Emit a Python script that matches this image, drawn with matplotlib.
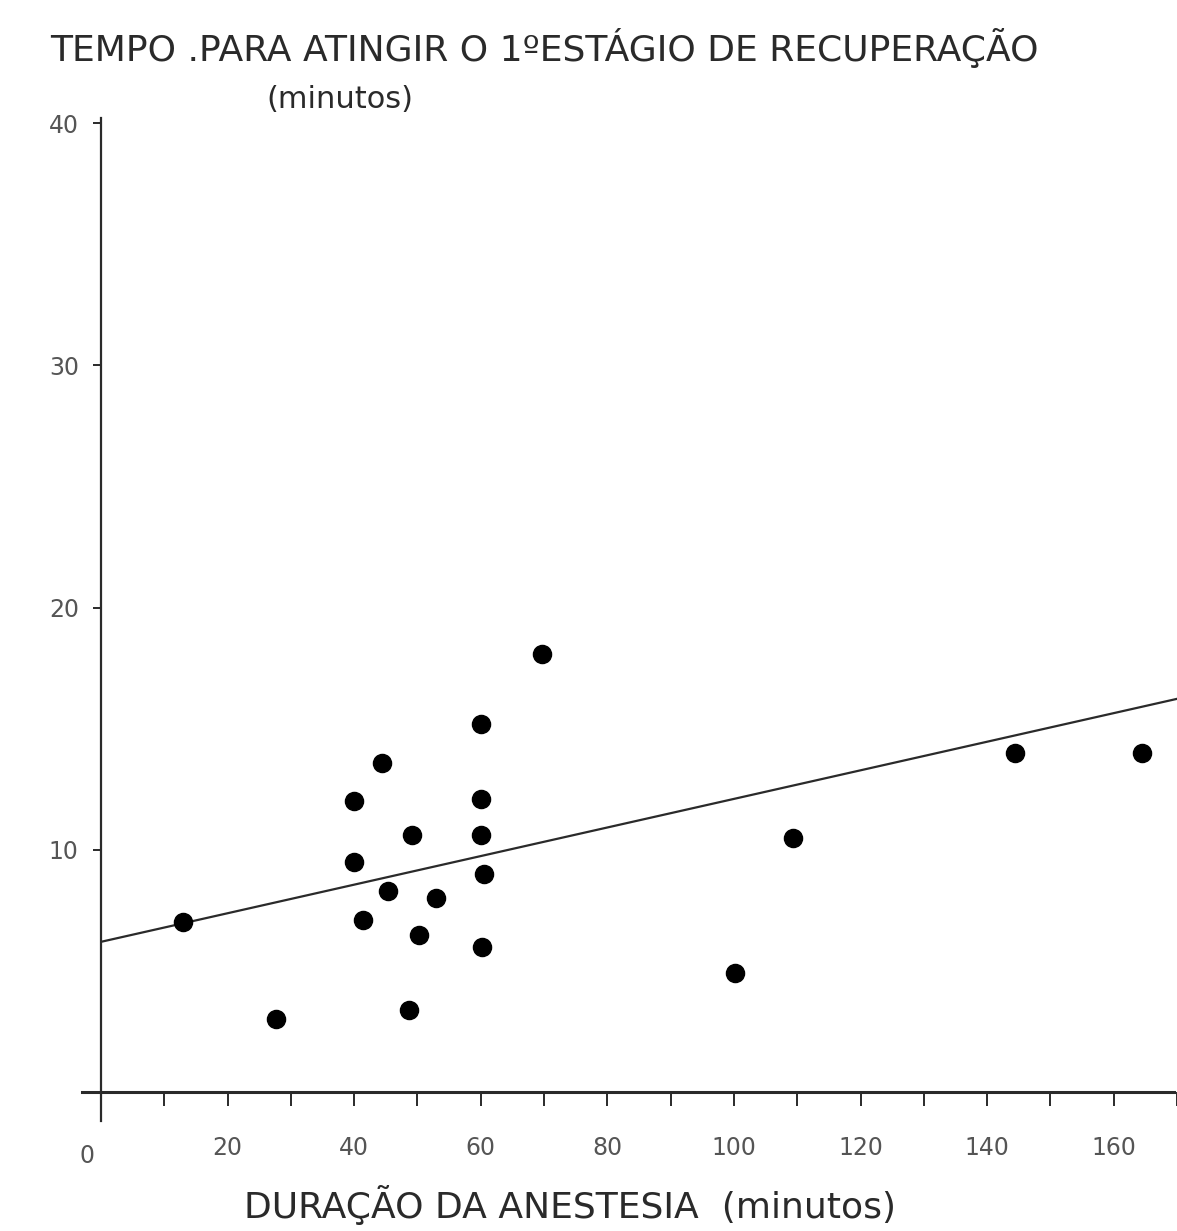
import numpy as np
import matplotlib
matplotlib.use("Agg")
import matplotlib.pyplot as plt
import matplotlib.transforms as mtransforms

# duração da anestesia (min) x tempo até o 1º estágio de recuperação (min)
duracao = [13, 27.6, 40, 40, 41.4, 44.4, 45.4, 48.7, 49.1, 50.2, 53,
           60, 60, 60, 60.5, 60.2, 69.6, 100.2, 109.4, 144.4, 164.4]
tempo = [7.0, 3.0, 12.0, 9.5, 7.1, 13.6, 8.3, 3.4, 10.6, 6.5, 8.0,
         15.2, 12.1, 10.6, 9.0, 6.0, 18.1, 4.9, 10.5, 14.0, 14.0]

# reta traçada
intercepto = 6.2
inclinacao = 0.059

xticks = [0, 20, 40, 60, 80, 100, 120, 140, 160]
yticks = [10, 20, 30, 40]

plt.rcParams['font.family'] = ['DejaVu Sans']
tinta = '#2a2a2a'

fig = plt.figure(figsize=(11.77, 12.31), dpi=100)
ax = fig.add_axes([101/1177, 0.1129, 1 - 101/1177, 0.904 - 0.1129])

ax.scatter(duracao, tempo, s=170, color='black', zorder=3)

xr = np.array([0, 172])
ax.plot(xr, intercepto + inclinacao*xr, color=tinta, lw=1.6, zorder=2)

ax.set_xlim(0, 169.5)
ax.set_ylim(0, 40.2)

for s in ['top', 'right']:
    ax.spines[s].set_visible(False)
ax.spines['left'].set_linewidth(1.6)
ax.spines['bottom'].set_linewidth(2.2)
ax.spines['left'].set_color(tinta)
ax.spines['bottom'].set_color(tinta)
ax.spines['left'].set_bounds(-1.2, 40.2)
ax.spines['bottom'].set_bounds(-3, 169.5)

ax.set_xticks(np.arange(0, 171, 10), minor=True)
ax.set_xticks(xticks)
ax.set_xticklabels([str(v) for v in xticks], fontsize=17, color='#555555')
ax.tick_params(axis='x', which='both', direction='out', length=10, width=1.4,
               color=tinta, pad=22)
ax.set_yticks(yticks)
ax.set_yticklabels([str(v) for v in yticks], fontsize=17, color='#555555')
ax.tick_params(axis='y', direction='out', length=6, width=1.4, color=tinta, pad=10)

# o "0" fica um pouco à esquerda do eixo e mais baixo
desloc = mtransforms.ScaledTranslation(-0.14, -0.08, fig.dpi_scale_trans)
rot0 = ax.get_xticklabels()[0]
rot0.set_transform(rot0.get_transform() + desloc)

fig.text(50/1177, 1 - 48/1231, 'TEMPO .PARA ATINGIR O 1ºESTÁGIO DE RECUPERAÇÃO',
         fontsize=26, color=tinta, va='center', ha='left')
fig.text(340/1177, 1 - 100/1231, '(minutos)', fontsize=22, color=tinta,
         va='center', ha='center')
fig.text(570/1177, 1 - 1205/1231, 'DURAÇÃO DA ANESTESIA  (minutos)',
         fontsize=26, color=tinta, va='center', ha='center')

fig.savefig('out.png', dpi=100, facecolor='white')
